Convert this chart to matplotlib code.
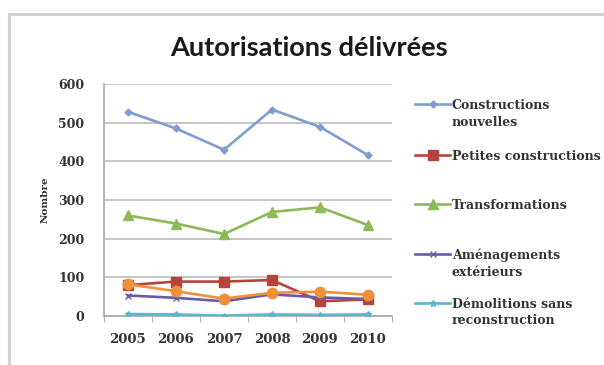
import matplotlib
matplotlib.use("Agg")
import matplotlib.pyplot as plt
from matplotlib.patches import Rectangle

# Data
years = ["2005", "2006", "2007", "2008", "2009", "2010"]
constructions_nouvelles = [528, 485, 430, 534, 489, 416]
petites_constructions = [80, 89, 89, 93, 38, 43]
transformations = [260, 239, 212, 269, 281, 235]
amenagements_exterieurs = [53, 47, 38, 56, 48, 44]
demolitions_sans_reconstruction = [5, 4, 1, 4, 3, 4]
autres = [82, 64, 45, 60, 63, 55]

labels = [
    "Constructions\nnouvelles",
    "Petites constructions",
    "Transformations",
    "Aménagements\nextérieurs",
    "Démolitions sans\nreconstruction",
]
y_ticks = [0, 100, 200, 300, 400, 500, 600]

serif = ["DejaVu Serif"]

fig = plt.figure(figsize=(6.04, 3.65), dpi=100)
fig.patch.set_facecolor("white")

# outer frame of the chart area
fig.add_artist(Rectangle((9 / 604, -0.05), 1.0, (365 - 14) / 365 + 0.05,
                         transform=fig.transFigure, fill=False,
                         edgecolor="#D8CFCB", linewidth=2.2))

ax = fig.add_axes([104 / 604, (365 - 316) / 365, 288 / 604, 232 / 365])
x = list(range(len(years)))

styles = [
    (constructions_nouvelles, "#7F9DCF", "D", 3.5, labels[0]),
    (petites_constructions, "#B5453C", "s", 7.5, labels[1]),
    (transformations, "#8DB957", "^", 7.5, labels[2]),
    (amenagements_exterieurs, "#6B59A8", "x", 5, labels[3]),
    (demolitions_sans_reconstruction, "#5BB5CF", "*", 5, labels[4]),
    (autres, "#EE9138", "o", 7.5, "_nolegend_"),
]
lines = []
for vals, col, mk, ms, lab in styles:
    ln, = ax.plot(x, vals, color=col, linewidth=1.9, marker=mk, markersize=ms,
                  markeredgecolor=col, markerfacecolor=col, label=lab, zorder=3)
    lines.append(ln)

ax.set_xlim(-0.5, len(years) - 0.5)
ax.set_ylim(0, 600)
ax.set_yticks(y_ticks)
ax.set_yticklabels([str(v) for v in y_ticks], fontfamily=serif,
                   fontweight="bold", fontsize=9, color="#333333")
ax.set_xticks(x)
ax.set_xticklabels(years, fontfamily=serif, fontweight="bold",
                   fontsize=9.5, color="#333333")
ax.tick_params(axis="y", length=0, pad=14)
ax.tick_params(axis="x", length=0, pad=12)
ax.set_xticks([i + 0.5 for i in range(-1, len(years))], minor=True)
ax.tick_params(axis="x", which="minor", length=4, color="#A0A0A0")

ax.grid(axis="y", color="#C6C6C6", linewidth=1.4, zorder=0)
ax.set_axisbelow(True)
for side in ("top", "right"):
    ax.spines[side].set_visible(False)
ax.spines["left"].set_color("#A8A8A8")
ax.spines["bottom"].set_color("#A8A8A8")
ax.spines["left"].set_linewidth(1.2)
ax.spines["bottom"].set_linewidth(1.2)

ax.set_ylabel("Nombre", fontfamily=serif, fontweight="bold", fontsize=7.5,
              color="#333333", labelpad=6)

fig.text(309 / 604, 1 - 48 / 365, "Autorisations délivrées",
         fontfamily="Lato", fontweight="bold", fontsize=19.5,
         ha="center", va="center", color="#1A1A1A")

# one legend block per series, each in its own row slot
row_tops = [99, 150, 199, 249, 298]
for ln, lab, top in zip(lines[:5], labels, row_tops):
    leg = fig.legend(handles=[ln], labels=[lab], loc="upper left",
                     bbox_to_anchor=(415 / 604, 1 - top / 365),
                     bbox_transform=fig.transFigure, frameon=False,
                     borderpad=0, borderaxespad=0, handlelength=2.8,
                     handleheight=1.0, handletextpad=0.15,
                     prop={"family": serif, "weight": "bold", "size": 9})
    for t in leg.get_texts():
        t.set_color("#333333")
        t.set_linespacing(1.35)
    for col in leg._legend_handle_box.get_children():
        for item in col.get_children():
            item.align = "top"

fig.savefig("out.png", dpi=100)
